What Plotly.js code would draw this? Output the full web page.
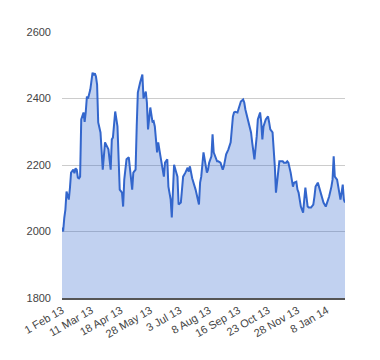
<!DOCTYPE html>
<html>
<head>
<meta charset="utf-8">
<script src="https://cdn.plot.ly/plotly-3.0.1.min.js"></script>
<style>html,body{margin:0;padding:0;background:#fff;}#chart{width:380px;height:360px;}</style>
</head>
<body>
<div id="chart"></div>
<script>
// trading-day index and closing value
const dayIndex = [0,1,2,3,4,5,6,7,8,10,11,12,13,14,15,16,17,19,20,21,22,23,25,27,28,29,30,31,32,34,35,36,38,40,41,43,44,45,47,49,50,51,53,54,55,57,59,60,62,63,65,66,67,69,71,72,74,75,76,78,80,81,82,84,85,87,89,90,91,93,94,96,97,98,99,101,102,103,105,106,107,109,111,112,113,115,116,118,120,121,122,123,125,126,128,129,130,132,133,134,136,137,138,140,142,143,145,146,147,149,151,152,153,155,156,158,160,161,162,164,165,167,168,169,170,172,173,175,176,177,178,180,182,183,184,186,187,188,189,191,192,193,195,196,198,199,200,202,204,205,207,208,209,211,213,214,215,217,218,220,222,223,224,226,227,229,230,231,233,235,236,238,239,240,241,243,244,246,247,248,249,250];
const values = [2012,2000,2040,2066,2120,2110,2096,2130,2177,2186,2175,2190,2186,2162,2160,2165,2337,2358,2330,2360,2406,2400,2427,2478,2470,2476,2466,2442,2328,2298,2220,2186,2268,2256,2247,2186,2277,2283,2361,2316,2226,2126,2117,2075,2156,2217,2223,2186,2126,2177,2186,2316,2418,2448,2472,2400,2421,2388,2307,2373,2328,2331,2316,2238,2268,2226,2177,2165,2207,2217,2135,2096,2042,2117,2201,2177,2165,2081,2087,2126,2165,2177,2192,2180,2196,2160,2150,2126,2096,2081,2147,2165,2238,2217,2177,2186,2207,2226,2292,2238,2217,2211,2211,2207,2186,2196,2232,2238,2247,2268,2346,2358,2360,2358,2367,2391,2397,2388,2367,2337,2328,2298,2268,2238,2217,2286,2337,2358,2328,2277,2316,2337,2346,2328,2307,2298,2256,2196,2117,2196,2211,2211,2211,2207,2207,2211,2207,2177,2135,2147,2150,2126,2117,2075,2057,2096,2132,2075,2072,2072,2081,2105,2135,2147,2135,2105,2096,2087,2075,2096,2105,2135,2156,2226,2165,2156,2135,2096,2117,2141,2096,2087];
const tickIndex = [0,26,52,78,104,130,156,182,208,234];
const tickLabels = ["1 Feb 13","11 Mar 13","18 Apr 13","28 May 13","3 Jul 13","8 Aug 13","16 Sep 13","23 Oct 13","28 Nov 13","8 Jan 14"];
const yTicks = [1800,2000,2200,2400,2600];

const trace = {
  x: dayIndex, y: values, type: 'scatter', mode: 'lines',
  line: {color: '#3366cc', width: 2},
  fill: 'tozeroy', fillcolor: 'rgba(51,102,204,0.3)',
  hoverinfo: 'skip'
};
const layout = {
  width: 380, height: 360,
  margin: {l: 62, r: 35, t: 32, b: 62, pad: 0},
  paper_bgcolor: '#fff', plot_bgcolor: '#fff',
  showlegend: false,
  font: {family: 'Liberation Sans, Arial, sans-serif', size: 11, color: '#444'},
  xaxis: {
    range: [0, 250], tickmode: 'array', tickvals: tickIndex, ticktext: tickLabels,
    tickangle: -30, showgrid: false, zeroline: false,
    showline: true, linecolor: '#555', linewidth: 2, ticks: '',
    tickfont: {size: 11, color: '#444'}
  },
  yaxis: {
    range: [1800, 2600], tickmode: 'array', tickvals: yTicks,
    showgrid: true, gridcolor: '#cccccc', gridwidth: 1, zeroline: false,
    showline: false, ticks: '', ticklabelstandoff: 10,
    tickfont: {size: 11, color: '#444'}
  }
};
Plotly.newPlot('chart', [trace], layout, {staticPlot: true, displayModeBar: false});
</script>
</body>
</html>
